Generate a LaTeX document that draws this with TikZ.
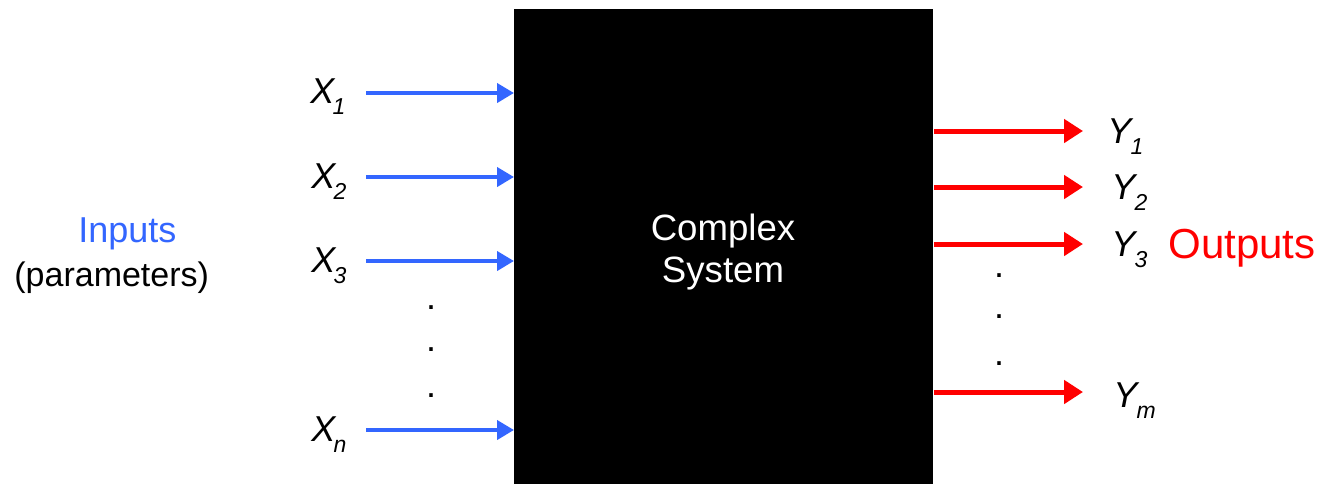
\documentclass[tikz,border=0pt]{standalone}
\usepackage{fontspec}
\setmainfont{Liberation Sans}
\usetikzlibrary{arrows.meta}
\definecolor{inblue}{HTML}{3366FF}
\definecolor{outred}{HTML}{FF0000}
\newcommand{\fs}[1]{\fontsize{#1}{#1}\selectfont}
\newcommand{\lbl}[2]{\textit{#1}\kern-1.5pt\raisebox{-5.5pt}{\fs{11.5pt}\textit{#2}}}
\begin{document}
\begin{tikzpicture}[x=0.5pt,y=-0.5pt,
  txt/.style={inner sep=0pt,anchor=base west,font=\fs{18pt}},
  inarrow/.style={draw=inblue,line width=2pt,-{Triangle[length=8.5pt,width=9.5pt]}},
  outarrow/.style={draw=outred,line width=2.5pt,-{Triangle[length=9.5pt,width=11.5pt]}},
  dotlbl/.style={inner sep=0pt,anchor=base,font=\fs{18pt}}]
\useasboundingbox (0,0) rectangle (1322,484);
% system box
\node[fill=black,inner sep=0pt,minimum width=209.5pt,minimum height=237.5pt,anchor=north west] (sys) at (514,9) {};
\node[inner sep=0pt,anchor=base,font=\fs{18.3pt},text=white] (c1) at (723,240) {Complex};
\node[inner sep=0pt,anchor=base,font=\fs{18.3pt},text=white] (c2) at (723,282) {System};
% inputs
\node[txt,text=inblue] (inp) at (78,242) {Inputs};
\node[txt,font=\fs{17pt}] (par) at (14,286) {(parameters)};
\node[txt] (x1) at (310,103) {\lbl{X}{1}};
\node[txt] (x2) at (311,188) {\lbl{X}{2}};
\node[txt] (x3) at (311,272) {\lbl{X}{3}};
\node[txt] (xn) at (311,441) {\lbl{X}{n}};
\coordinate (a1) at (366,93);
\coordinate (a2) at (366,177);
\coordinate (a3) at (366,261);
\coordinate (an) at (366,430);
\draw[inarrow] (a1) -- (a1 -| sys.west);
\draw[inarrow] (a2) -- (a2 -| sys.west);
\draw[inarrow] (a3) -- (a3 -| sys.west);
\draw[inarrow] (an) -- (an -| sys.west);
\node[dotlbl] (ld1) at (431,309) {.};
\node[dotlbl] (ld2) at (431,351) {.};
\node[dotlbl] (ld3) at (431,397) {.};
% outputs
\coordinate (b1) at (1083,131);
\coordinate (b2) at (1083,187);
\coordinate (b3) at (1083,244);
\coordinate (bm) at (1083,392);
\draw[outarrow] (b1 -| sys.east) -- (b1);
\draw[outarrow] (b2 -| sys.east) -- (b2);
\draw[outarrow] (b3 -| sys.east) -- (b3);
\draw[outarrow] (bm -| sys.east) -- (bm);
\node[txt] (y1) at (1107,143) {\lbl{Y}{1}};
\node[txt] (y2) at (1111,199) {\lbl{Y}{2}};
\node[txt] (y3) at (1111,256) {\lbl{Y}{3}};
\node[txt] (ym) at (1113,407) {\lbl{Y}{m}};
\node[txt,font=\fs{21pt},text=outred] (out) at (1168,258) {Outputs};
\node[dotlbl] (rd1) at (999,277) {.};
\node[dotlbl] (rd2) at (999,318) {.};
\node[dotlbl] (rd3) at (999,365) {.};
\end{tikzpicture}
\end{document}
